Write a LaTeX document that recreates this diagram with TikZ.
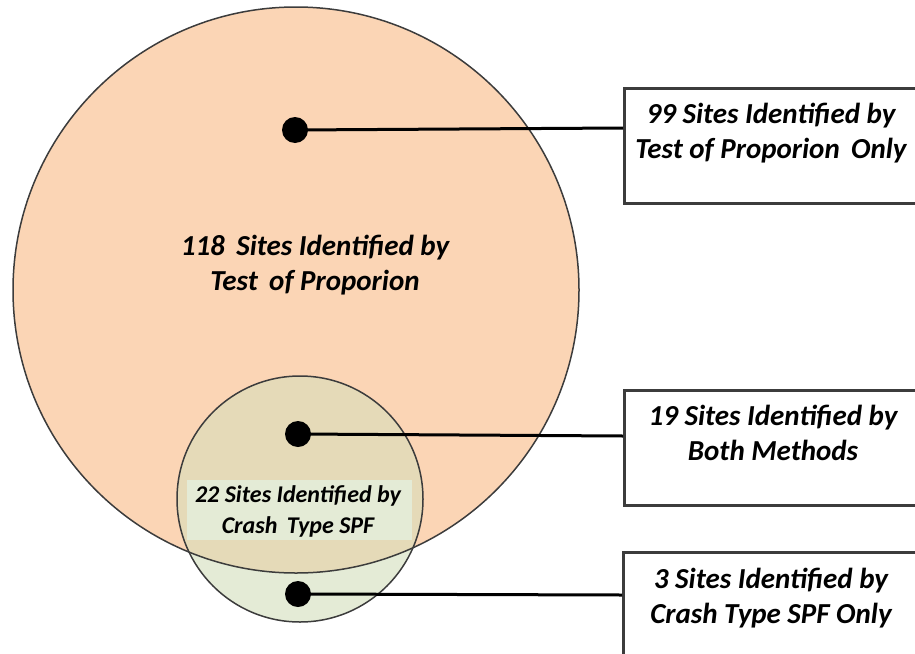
\documentclass[tikz,border=0pt]{standalone}
\usepackage{fontspec}
\setmainfont{Carlito}
\usetikzlibrary{calc}
\definecolor{peach}{RGB}{251,213,181}
\definecolor{overlap}{RGB}{229,218,184}
\definecolor{palegreen}{RGB}{228,235,214}
\definecolor{rimgray}{RGB}{60,60,60}
\tikzset{
  setcircle/.style={draw=rimgray, line width=1.5pt},
  dotmark/.style={circle, fill=black, inner sep=0pt, minimum size=26pt},
  infobox/.style={draw=rimgray, line width=2.5pt, rectangle, inner sep=0pt,
    minimum width=300pt, minimum height=115pt, anchor=north west},
  bigtext/.style={font=\fontsize{29}{35}\selectfont\bfseries\itshape, align=center, inner sep=0pt},
  smalltext/.style={font=\fontsize{24}{31}\selectfont\bfseries\itshape, align=center, inner sep=0pt},
  leader/.style={line width=3pt, black}
}
\begin{document}
\begin{tikzpicture}[x=1pt,y=-1pt]
\useasboundingbox (0,0) rectangle (915,653);
% the two sets
\coordinate (bigc) at (296,290);
\coordinate (smallc) at (300,499);
\fill[peach] (bigc) circle[radius=283];
\fill[palegreen] (smallc) circle[radius=123];
\begin{scope}
  \clip (bigc) circle[radius=283];
  \fill[overlap] (smallc) circle[radius=123];
\end{scope}
% label band inside the small circle
\fill[palegreen] (187,480) rectangle (412,540);
\draw[setcircle] (bigc) circle[radius=283];
\draw[setcircle] (smallc) circle[radius=123];
% set labels
\node[bigtext, anchor=north] (biglabel) at (315,235) {118\, Sites Identified by\\Test\, of Proporion};
\node[smalltext, anchor=north] (smalllabel) at (298,485) {22 Sites Identified by\\Crash\, Type SPF};
% markers
\node[dotmark] (d1) at (295,130) {};
\node[dotmark] (d2) at (298,434) {};
\node[dotmark] (d3) at (298,594) {};
% callout boxes
\node[infobox] (b1) at (623,87) {};
\node[infobox] (b2) at (623,389) {};
\node[infobox] (b3) at (622,551) {};
\node[bigtext, anchor=north] (t1) at ($(b1.north west)+(148,16)$) {99 Sites Identified by\\Test of Proporion\, Only};
\node[bigtext, anchor=north] (t2) at ($(b2.north west)+(150,16)$) {19 Sites Identified by\\Both Methods};
\node[bigtext, anchor=north] (t3) at ($(b3.north west)+(149,17)$) {3 Sites Identified by\\Crash Type SPF Only};
% leaders
\draw[leader] (d1.center) -- ($(b1.north west)+(0,41)$);
\draw[leader] (d2.center) -- ($(b2.north west)+(0,47)$);
\draw[leader] (d3.center) -- ($(b3.north west)+(0,44)$);
\end{tikzpicture}
\end{document}
